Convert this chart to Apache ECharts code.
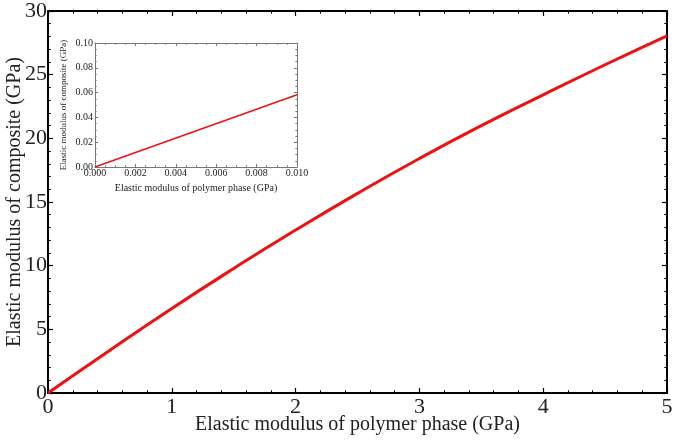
<!DOCTYPE html>
<html><head><meta charset="utf-8">
<script src="https://cdn.jsdelivr.net/npm/echarts@6/dist/echarts.min.js"></script>
<style>html,body{margin:0;padding:0;background:#fff}#c{width:675px;height:442px}</style>
</head><body><div id="c"></div>
<script>
var mainX = [0, 0.5, 1, 1.5, 2, 2.5, 3, 3.5, 4, 4.5, 5];
var mainY = [0, 3.36, 6.64, 9.78, 12.8, 15.68, 18.42, 21.0, 23.42, 25.78, 28.05];
var insetX = [0, 0.01];
var insetY = [0, 0.0583];
var xName = 'Elastic modulus of polymer phase (GPa)';
var yName = 'Elastic modulus of composite (GPa)';

var F = 'Liberation Serif';
var RED = '#ee1111';
function pairs(a, b) { return a.map(function (v, i) { return [v, b[i]]; }); }

function ax(o) {
  var base = {
    type: 'value', min: o.min, max: o.max, interval: o.interval, gridIndex: o.grid,
    position: o.position, z: o.z || 2,
    axisLine: { show: true, onZero: false, lineStyle: { color: o.lineColor, width: o.lw } },
    axisTick: { show: true, inside: true, length: o.tickLen, lineStyle: { color: o.lineColor, width: o.lw > 1 ? 1.2 : 1 } },
    minorTick: { show: true, splitNumber: o.minorSplit, length: o.tickLen * 0.55, lineStyle: { color: o.lineColor, width: 1 } },
    splitLine: { show: false },
    axisLabel: { show: o.labels, fontFamily: F, fontSize: o.fontSize, color: '#222', margin: o.margin, formatter: o.fmt }
  };
  if (o.name) {
    base.name = o.name; base.nameLocation = 'middle'; base.nameGap = o.nameGap;
    base.nameMoveOverlap = false;
    base.nameTextStyle = { fontFamily: F, fontSize: o.nameSize, color: '#222' };
  }
  return base;
}

var chart = echarts.init(document.getElementById('c'));
chart.setOption({
  animation: false,
  backgroundColor: '#fff',
  grid: [
    { left: 48, top: 11, width: 619, height: 382, outerBoundsMode: 'none', containLabel: false },
    { left: 95, top: 43, width: 202, height: 124, show: true, backgroundColor: '#fff', borderWidth: 0, z: 5, outerBoundsMode: 'none', containLabel: false }
  ],
  xAxis: [
    ax({ grid: 0, min: 0, max: 5, interval: 1, position: 'bottom', lineColor: '#000', lw: 2, tickLen: 5, minorSplit: 5, labels: true, fontSize: 22, margin: 3, fmt: function (v) { return String(v); }, name: xName, nameGap: 22, nameSize: 20 }),
    ax({ grid: 0, min: 0, max: 5, interval: 1, position: 'top', lineColor: '#000', lw: 2, tickLen: 5, minorSplit: 5, labels: false }),
    ax({ grid: 1, z: 10, min: 0, max: 0.01, interval: 0.002, position: 'bottom', lineColor: '#777', lw: 1, tickLen: 3, minorSplit: 4, labels: true, fontSize: 10, margin: 1, fmt: function (v) { return v.toFixed(3); }, name: xName, nameGap: 16, nameSize: 10 }),
    ax({ grid: 1, z: 10, min: 0, max: 0.01, interval: 0.002, position: 'top', lineColor: '#777', lw: 1, tickLen: 3, minorSplit: 4, labels: false })
  ],
  yAxis: [
    ax({ grid: 0, min: 0, max: 30, interval: 5, position: 'left', lineColor: '#000', lw: 2, tickLen: 5, minorSplit: 5, labels: true, fontSize: 22, margin: 1, fmt: function (v) { return String(v); }, name: yName, nameGap: 23, nameSize: 20 }),
    ax({ grid: 0, min: 0, max: 30, interval: 5, position: 'right', lineColor: '#000', lw: 2, tickLen: 5, minorSplit: 5, labels: false }),
    ax({ grid: 1, z: 10, min: 0, max: 0.1, interval: 0.02, position: 'left', lineColor: '#777', lw: 1, tickLen: 3, minorSplit: 4, labels: true, fontSize: 10, margin: 2, fmt: function (v) { return v.toFixed(2); }, name: yName, nameGap: 27, nameSize: 9 }),
    ax({ grid: 1, z: 10, min: 0, max: 0.1, interval: 0.02, position: 'right', lineColor: '#777', lw: 1, tickLen: 3, minorSplit: 4, labels: false })
  ],
  series: [
    { type: 'line', xAxisIndex: 0, yAxisIndex: 0, data: pairs(mainX, mainY), smooth: true, showSymbol: false, lineStyle: { color: RED, width: 3 }, z: 3 },
    { type: 'line', xAxisIndex: 2, yAxisIndex: 2, data: pairs(insetX, insetY), showSymbol: false, lineStyle: { color: RED, width: 1.5 }, z: 11 }
  ]
});
</script>
</body></html>
